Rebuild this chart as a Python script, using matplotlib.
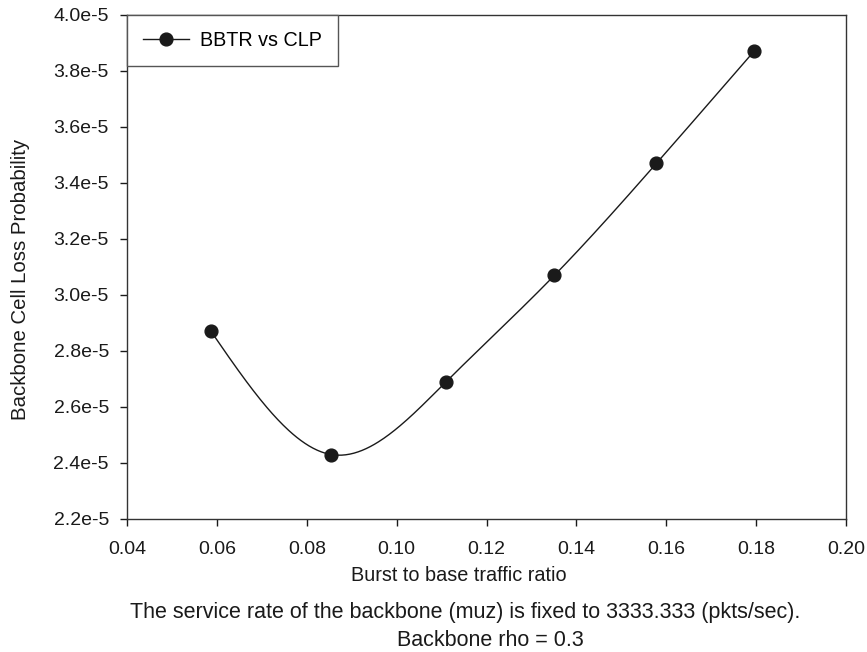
import numpy as np
import matplotlib
matplotlib.use("Agg")
import matplotlib.pyplot as plt

plt.rcParams['font.family'] = ['Liberation Sans', 'DejaVu Sans']

# Burst-to-base traffic ratio vs backbone cell loss probability
ratio = [0.0587, 0.0855, 0.1110, 0.1351, 0.1578, 0.1795]
clp = [2.87e-5, 2.43e-5, 2.69e-5, 3.07e-5, 3.47e-5, 3.87e-5]
x_ticks = [0.04, 0.06, 0.08, 0.10, 0.12, 0.14, 0.16, 0.18, 0.20]
y_ticks = [2.2e-5, 2.4e-5, 2.6e-5, 2.8e-5, 3.0e-5, 3.2e-5, 3.4e-5, 3.6e-5, 3.8e-5, 4.0e-5]
y_tick_labels = ["2.2e-5", "2.4e-5", "2.6e-5", "2.8e-5", "3.0e-5",
                 "3.2e-5", "3.4e-5", "3.6e-5", "3.8e-5", "4.0e-5"]

INK = '#1a1a1a'


def natural_spline(xs, ys, n=400):
    """Natural cubic spline through the given points."""
    xs = np.asarray(xs, float)
    ys = np.asarray(ys, float)
    k = len(xs)
    h = np.diff(xs)
    A = np.zeros((k, k))
    b = np.zeros(k)
    A[0, 0] = A[-1, -1] = 1.0
    for i in range(1, k - 1):
        A[i, i - 1] = h[i - 1]
        A[i, i] = 2 * (h[i - 1] + h[i])
        A[i, i + 1] = h[i]
        b[i] = 3 * ((ys[i + 1] - ys[i]) / h[i] - (ys[i] - ys[i - 1]) / h[i - 1])
    c = np.linalg.solve(A, b)
    xx = np.linspace(xs[0], xs[-1], n)
    yy = np.empty_like(xx)
    for j, xv in enumerate(xx):
        i = min(np.searchsorted(xs, xv, side='right') - 1, k - 2)
        dx = xv - xs[i]
        bi = (ys[i + 1] - ys[i]) / h[i] - h[i] * (2 * c[i] + c[i + 1]) / 3
        di = (c[i + 1] - c[i]) / (3 * h[i])
        yy[j] = ys[i] + bi * dx + c[i] * dx ** 2 + di * dx ** 3
    return xx, yy


fig = plt.figure(figsize=(8.67, 6.52), dpi=100)
ax = fig.add_axes([0.1465, 0.204, 0.8293, 0.773])

sx, sy = natural_spline(ratio, clp)
ax.plot(sx, sy, color=INK, lw=1.0, zorder=2)
ax.plot(ratio, clp, linestyle='none', marker='o', markersize=9.2,
        color=INK, zorder=3)

# legend proxy: line with marker
ax.plot([], [], color=INK, lw=1.0, marker='o', markersize=9.2,
        label='BBTR vs CLP')

ax.set_xlim(0.04, 0.20)
ax.set_ylim(2.2e-5, 4.0e-5)
ax.set_xticks(x_ticks)
ax.set_xticklabels([f"{t:.2f}" for t in x_ticks])
ax.set_yticks(y_ticks)
ax.set_yticklabels(y_tick_labels)
ax.tick_params(direction='out', length=5, width=1, colors=INK,
               labelsize=14, top=False, right=False)
ax.tick_params(axis='x', pad=10.5)
ax.tick_params(axis='y', pad=8)
for s in ax.spines.values():
    s.set_color('#333333')
    s.set_linewidth(1.0)

leg = ax.legend(loc='upper left', bbox_to_anchor=(0, 1), borderaxespad=0,
                fancybox=False, frameon=True, fontsize=14.2, handlelength=2.3,
                borderpad=0.82, handletextpad=0.6)
leg.get_frame().set_edgecolor('#555555')
leg.get_frame().set_linewidth(1.0)
leg.get_frame().set_alpha(1)

# axis titles and caption
fig.text(459 / 867, 1 - 581 / 652, 'Burst to base traffic ratio',
         ha='center', va='baseline', fontsize=14.3, color=INK)
fig.text(20.8 / 867, 1 - 279 / 652, 'Backbone Cell Loss Probability',
         ha='center', va='center', rotation=90, fontsize=14.7, color=INK)
fig.text(465 / 867, 1 - 617.7 / 652,
         'The service rate of the backbone (muz) is fixed to 3333.333 (pkts/sec).',
         ha='center', va='baseline', fontsize=15.5, color=INK)
fig.text(490.5 / 867, 1 - 645.7 / 652, 'Backbone rho = 0.3',
         ha='center', va='baseline', fontsize=15.5, color=INK)

fig.savefig('out.png', dpi=100)
